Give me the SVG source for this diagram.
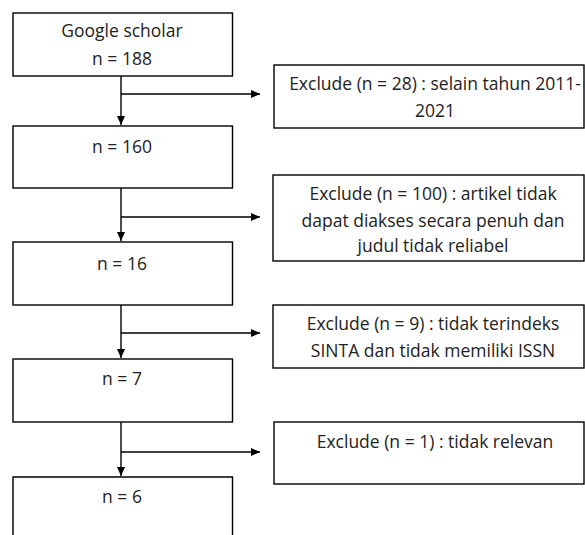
<svg xmlns="http://www.w3.org/2000/svg" width="585" height="535" viewBox="0 0 585 535">
<defs>
<marker id="ah" markerWidth="10" markerHeight="10" refX="9" refY="5" orient="auto" markerUnits="userSpaceOnUse">
<path d="M0,1 L9,5 L0,9 Z" fill="#000"/>
</marker>
<style>
.box{fill:#fff;stroke:#000;stroke-width:1.4}
.t{font-family:"Open Sans","Liberation Sans",sans-serif;font-size:17.5px;fill:#222;text-anchor:middle}
.c{fill:none;stroke:#000;stroke-width:1.4}
</style>
</defs>
<rect width="585" height="535" fill="#fff"/>
<g id="n188"><rect class="box" x="13" y="13" width="219.5" height="63"/><text class="t" x="122" y="37">Google scholar</text><text class="t" x="122" y="65">n = 188</text></g>
<g id="n160"><rect class="box" x="13" y="126" width="219.5" height="62"/><text class="t" x="122" y="153">n = 160</text></g>
<g id="n16"><rect class="box" x="13" y="242" width="219.5" height="63"/><text class="t" x="122" y="270">n = 16</text></g>
<g id="n7"><rect class="box" x="13" y="359" width="219.5" height="63"/><text class="t" x="122" y="385">n = 7</text></g>
<g id="n6"><path class="box" d="M13,540 V477 H232.5 V540"/><text class="t" x="122" y="503">n = 6</text></g>
<g id="ex28"><rect class="box" x="274" y="65" width="310" height="63"/><text class="t" x="435" y="90">Exclude (n = 28) : selain tahun 2011-</text><text class="t" x="435" y="117">2021</text></g>
<g id="ex100"><rect class="box" x="273" y="175" width="311" height="86"/><text class="t" x="433" y="200">Exclude (n = 100) : artikel tidak</text><text class="t" x="433" y="227">dapat diakses secara penuh dan</text><text class="t" x="433" y="252">judul tidak reliabel</text></g>
<g id="ex9"><rect class="box" x="273" y="305" width="311" height="63"/><text class="t" x="433" y="330">Exclude (n = 9) : tidak terindeks</text><text class="t" x="433" y="357">SINTA dan tidak memiliki ISSN</text></g>
<g id="ex1"><rect class="box" x="274" y="422" width="310" height="62"/><text class="t" x="435" y="448">Exclude (n = 1) : tidak relevan</text></g>
<g id="connectors">
<line class="c" x1="121" y1="76" x2="121" y2="125" marker-end="url(#ah)"/>
<line class="c" x1="121" y1="94" x2="260" y2="94" marker-end="url(#ah)"/>
<line class="c" x1="121" y1="188" x2="121" y2="241" marker-end="url(#ah)"/>
<line class="c" x1="121" y1="217" x2="260" y2="217" marker-end="url(#ah)"/>
<line class="c" x1="121" y1="305" x2="121" y2="358" marker-end="url(#ah)"/>
<line class="c" x1="121" y1="333" x2="260" y2="333" marker-end="url(#ah)"/>
<line class="c" x1="121" y1="422" x2="121" y2="476" marker-end="url(#ah)"/>
<line class="c" x1="121" y1="452" x2="260" y2="452" marker-end="url(#ah)"/>
</g>
</svg>
